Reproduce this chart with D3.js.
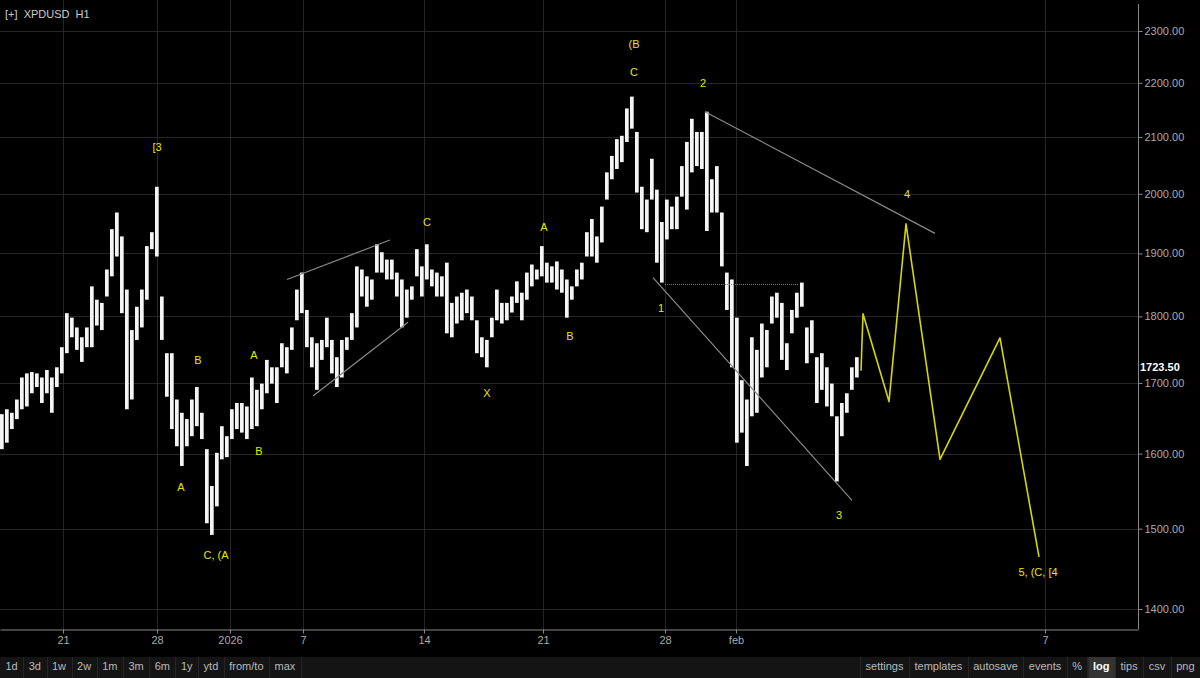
<!DOCTYPE html>
<html>
<head>
<meta charset="utf-8">
<script src="https://cdn.jsdelivr.net/npm/d3@7"></script>
<style>
  html, body { margin: 0; padding: 0; background: #000; }
  svg { display: block; font-family: "Liberation Sans", Arial, sans-serif; }
</style>
</head>
<body>
<div id="chart"></div>
<script>
// hourly XPDUSD, sampled every 5 trading hours (high / low of each sample)
const sampleStep = 5;
const hi = [1655,1662,1657,1676,1708,1714,1716,1714,1708,1719,1708,1723,1753,1805,1798,1783,1768,1783,1847,1826,
            1821,1874,1940,1968,1928,1842,1779,1815,1842,1912,1935,2012,1831,1744,1744,1676,1657,1648,1676,1694,
            1657,1606,1556,1601,1638,1624,1662,1671,1671,1666,1708,1690,1699,1734,1723,1723,1759,1753,1783,1842,
            1869,1810,1768,1759,1764,1798,1764,1738,1764,1768,1805,1879,1874,1863,1858,1915,1902,1890,1890,1869,
            1858,1842,1847,1907,1879,1915,1874,1869,1863,1885,1821,1831,1837,1842,1831,1794,1768,1764,1798,1842,
            1821,1821,1831,1855,1837,1869,1882,1874,1912,1885,1879,1887,1874,1858,1847,1874,1885,1935,1957,1928,
            1978,2037,2066,2096,2102,2152,2174,2109,2012,1990,2061,2007,1952,1990,1978,1995,2048,2091,2133,2109,
            2109,2146,2025,2048,1968,1869,1858,1798,1704,1676,1768,1749,1789,1779,1831,1837,1821,1759,1810,1837,
            1853,1783,1794,1738,1744,1723,1699,1652,1671,1685,1723,1738];
const lo = [1606,1615,1634,1648,1662,1666,1685,1694,1671,1685,1657,1694,1714,1744,1768,1749,1731,1753,1753,1786,
            1779,1831,1863,1895,1805,1662,1676,1764,1783,1826,1907,1895,1764,1680,1634,1610,1583,1610,1624,1638,
            1620,1507,1492,1529,1592,1595,1620,1634,1629,1620,1634,1638,1662,1685,1699,1671,1723,1714,1749,1794,
            1805,1753,1723,1690,1734,1753,1714,1694,1708,1749,1764,1783,1831,1815,1826,1869,1869,1858,1858,1831,
            1783,1798,1826,1863,1831,1858,1847,1831,1831,1774,1768,1789,1794,1805,1794,1744,1738,1723,1768,1794,
            1789,1794,1806,1821,1794,1826,1847,1858,1863,1853,1853,1842,1837,1798,1826,1847,1858,1895,1895,1885,
            1918,1990,2025,2043,2055,2091,2115,2002,1940,1935,1990,1885,1853,1923,1940,1940,1995,1973,2037,2048,
            2043,1937,1968,1968,1879,1810,1723,1615,1629,1583,1652,1657,1708,1723,1789,1798,1734,1719,1774,1798,
            1815,1729,1744,1671,1690,1666,1652,1562,1624,1657,1690,1708];
const lastPrice = 1723.5;

// axes
const priceTicks = [1400, 1500, 1600, 1700, 1800, 1900, 2000, 2100, 2200, 2300];
const dateTickHours = [63, 157, 230, 303, 424, 543, 665, 736, 1045];
const dateTickLabels = ["21", "28", "2026", "7", "14", "21", "28", "feb", "7"];

// projected path (yellow)
const projHours = [861, 863, 889, 906, 940, 1000, 1039];
const projPrices = [1718, 1804, 1673, 1949, 1592, 1767, 1464];

// trendlines [h1, p1, h2, p2]
const trendLines = [
  [287, 1858, 390, 1922],
  [313, 1681, 408, 1791],
  [705, 2146, 935, 1933],
  [653, 1861, 852, 1537]
];
const dottedLine = [665, 1850, 798, 1850];

// wave labels
const waveText   = ["[3", "B", "A", "C, (A", "A", "B", "C", "X", "A", "B", "(B", "C", "2", "1", "3", "4", "5, (C, [4"];
const waveHours  = [157, 198, 181, 216, 254, 259, 427, 487, 544, 570, 634, 634, 703, 661, 839, 907, 1038];
const wavePrices = [2082, 1734, 1554, 1466, 1741, 1603, 1952, 1685, 1943, 1770, 2274, 2221, 2200, 1813, 1517, 2000, 1445];

const leftButtons = ["1d", "3d", "1w", "2w", "1m", "3m", "6m", "1y", "ytd", "from/to", "max"];
const rightButtons = ["settings", "templates", "autosave", "events", "%", "log", "tips", "csv", "png"];

const width = 1200, height = 678;
const plot = {left: 0, right: 1138, top: 0, bottom: 629};

const svg = d3.select("#chart").append("svg")
    .attr("width", width).attr("height", height)
    .attr("viewBox", [0, 0, width, height]);

svg.append("rect").attr("width", width).attr("height", height).attr("fill", "#000");

const x = d3.scaleLinear()
    .domain([0, 1138])
    .range([plot.left, plot.right]);

const y = d3.scaleLog()
    .domain([1400, 2300])
    .range([609, 31]);

// grid
const grid = svg.append("g").attr("stroke", "#262626").attr("stroke-width", 1);
grid.selectAll(".hg").data(priceTicks).join("line")
    .attr("x1", plot.left).attr("x2", plot.right)
    .attr("y1", d => Math.round(y(d)) + 0.5).attr("y2", d => Math.round(y(d)) + 0.5);
grid.selectAll(".vg").data(dateTickHours).join("line")
    .attr("x1", d => Math.round(x(d)) + 0.5).attr("x2", d => Math.round(x(d)) + 0.5)
    .attr("y1", plot.top).attr("y2", plot.bottom);

// price bars
const bw = x(sampleStep) - x(0) - 1.3;
svg.append("g").selectAll("rect").data(hi).join("rect")
    .attr("x", (d, i) => x(i * sampleStep))
    .attr("width", bw)
    .attr("y", (d, i) => y(d))
    .attr("height", (d, i) => Math.max(1, y(lo[i]) - y(d)))
    .attr("fill", "#f4f4f4");

// trendlines
svg.append("g").selectAll("line").data(trendLines).join("line")
    .attr("x1", d => x(d[0])).attr("y1", d => y(d[1]))
    .attr("x2", d => x(d[2])).attr("y2", d => y(d[3]))
    .attr("stroke", "#8a8a8a").attr("stroke-width", 1.2);

svg.append("line")
    .attr("x1", x(dottedLine[0])).attr("y1", Math.round(y(dottedLine[1])) + 0.5)
    .attr("x2", x(dottedLine[2])).attr("y2", Math.round(y(dottedLine[3])) + 0.5)
    .attr("stroke", "#777").attr("stroke-dasharray", "1,1");

// projection
svg.append("path")
    .datum(projHours.map((h, i) => [h, projPrices[i]]))
    .attr("fill", "none")
    .attr("stroke", "#d6d600")
    .attr("stroke-width", 1.6)
    .attr("stroke-linejoin", "round")
    .attr("d", d3.line().x(d => x(d[0])).y(d => y(d[1])));

// wave labels
svg.append("g").selectAll("text").data(waveText).join("text")
    .attr("x", (d, i) => x(waveHours[i]))
    .attr("y", (d, i) => y(wavePrices[i]))
    .attr("dy", "0.35em")
    .attr("text-anchor", "middle")
    .attr("fill", "#e6e600")
    .style("font-size", "11px")
    .text(d => d);

// right axis
const yAxis = svg.append("g")
    .attr("transform", `translate(${plot.right + 0.5},0)`)
    .call(d3.axisRight(y).tickValues(priceTicks).tickFormat(d3.format(".2f")).tickSize(4).tickPadding(2));
yAxis.select(".domain").remove();
yAxis.selectAll("line").attr("stroke", "#888");
yAxis.selectAll("text").attr("fill", "#aaa").style("font-size", "11px");

svg.append("line")
    .attr("x1", plot.right + 0.5).attr("x2", plot.right + 0.5)
    .attr("y1", 4).attr("y2", plot.bottom + 0.5)
    .attr("stroke", "#888");

svg.append("text")
    .attr("x", plot.right + 2).attr("y", y(lastPrice))
    .attr("dy", "0.35em")
    .attr("fill", "#fff")
    .style("font-size", "11px")
    .style("font-weight", "bold")
    .text(d3.format(".2f")(lastPrice));

// bottom axis
const xAxis = svg.append("g")
    .attr("transform", `translate(0,${plot.bottom + 0.5})`)
    .call(d3.axisBottom(x).tickValues(dateTickHours).tickFormat((d, i) => dateTickLabels[i]).tickSize(4).tickSizeOuter(0).tickPadding(3));
xAxis.select(".domain").attr("stroke", "#888");
xAxis.selectAll("line").attr("stroke", "#888");
xAxis.selectAll("text").attr("fill", "#aaa").style("font-size", "11px");

// title
svg.append("text")
    .attr("x", 5).attr("y", 18)
    .attr("fill", "#ccc")
    .style("font-size", "11px")
    .attr("xml:space", "preserve")
    .text("[+]  XPDUSD  H1");

// toolbar
const barTop = 657;
svg.append("rect").attr("x", 0).attr("y", barTop).attr("width", width).attr("height", height - barTop).attr("fill", "#141414");

function buttons(labels, startX, dir) {
  const g = svg.append("g");
  let pos = startX;
  const list = dir > 0 ? labels : labels.slice().reverse();
  list.forEach(lbl => {
    const t = g.append("text")
        .attr("y", barTop + 13)
        .attr("text-anchor", "middle")
        .attr("fill", lbl === "log" ? "#fff" : "#bbb")
        .style("font-size", "11px")
        .style("font-weight", lbl === "log" ? "bold" : "normal")
        .text(lbl);
    const w = t.node().getComputedTextLength() + 11;
    const bx = dir > 0 ? pos : pos - w;
    t.attr("x", bx + w / 2);
    if (lbl === "log") {
      g.insert("rect", "text").attr("x", bx).attr("y", barTop).attr("width", w).attr("height", height - barTop).attr("fill", "#333");
    }
    g.append("line")
      .attr("x1", Math.round(dir > 0 ? bx + w : bx) + 0.5).attr("x2", Math.round(dir > 0 ? bx + w : bx) + 0.5)
      .attr("y1", barTop).attr("y2", height)
      .attr("stroke", "#262626");
    pos = dir > 0 ? pos + w : pos - w;
  });
}
buttons(leftButtons, 0, 1);
buttons(rightButtons, width, -1);
</script>
</body>
</html>
